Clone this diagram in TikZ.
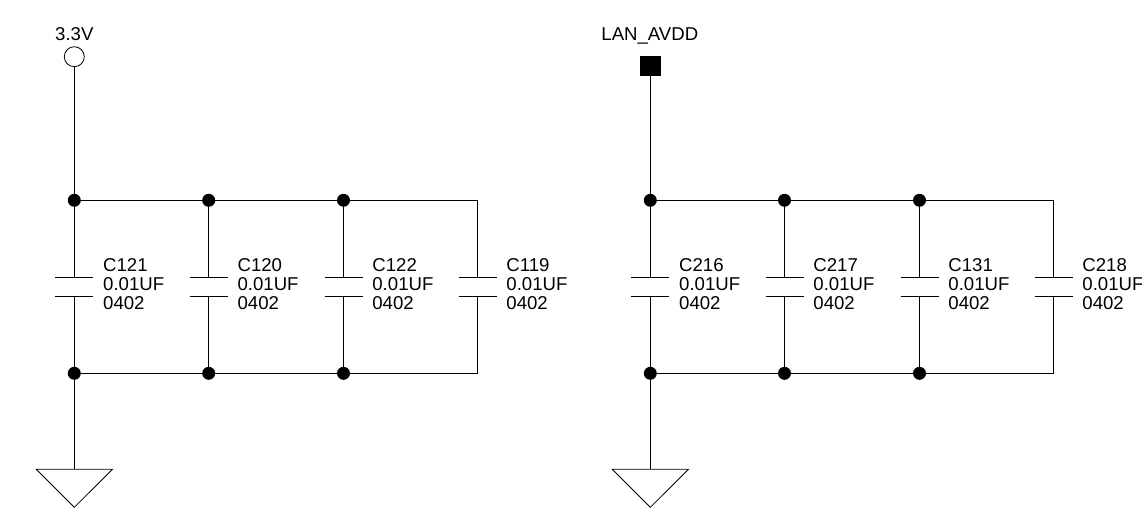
\documentclass[tikz,border=0pt]{standalone}
\usepackage{fontspec}
\setmainfont{Liberation Sans}
\tikzset{
  wire/.style={draw=black,line width=1pt},
  dotj/.style={circle,fill=black,inner sep=0pt,minimum size=13pt},
  caplabel/.style={anchor=north west,inner sep=0pt,align=left,font=\fontsize{18.6}{19.1}\selectfont},
  netlabel/.style={anchor=base west,inner sep=0pt,font=\fontsize{18.6}{19.1}\selectfont},
  portopen/.style={circle,draw=black,line width=0.8pt,fill=white,inner sep=0pt,minimum size=20pt},
  portsolid/.style={rectangle,fill=black,inner sep=0pt,minimum size=20.5pt}
}
\begin{document}
\begin{tikzpicture}[x=1pt,y=-1pt]
\useasboundingbox (0,0) rectangle (1142,522);
\fill[white] (0,0) rectangle (1142,522);
% capacitor column: name, x, label lines
\newcommand{\capcol}[3]{%
  \coordinate (#1t) at (#2,200.3);
  \coordinate (#1b) at (#2,373.3);
  \coordinate (#1pa) at (#2,277);
  \coordinate (#1pb) at (#2,296.5);
  \coordinate (#1al) at (#2-19,277);
  \coordinate (#1ar) at (#2+19,277);
  \coordinate (#1bl) at (#2-19,296.5);
  \coordinate (#1br) at (#2+19,296.5);
  \draw[wire] (#1t) -- (#1pa);
  \draw[wire] (#1pb) -- (#1b);
  \draw[wire] (#1al) -- (#1ar);
  \draw[wire] (#1bl) -- (#1br);
  \node[caplabel] (#1lab) at (#2+28.7,258.4) {#3\\0.01UF\\0402};
}
% left group
\capcol{a}{74.3}{C121}
\capcol{b}{208.7}{C120}
\capcol{c}{343.5}{C122}
\capcol{d}{477.5}{C119}
\draw[wire] (at) -- (bt) -- (ct) -- (dt);
\draw[wire] (ab) -- (bb) -- (cb) -- (db);
\node[portopen] (pwra) at (74.3,56.7) {};
\node[netlabel] (neta) at (55,40.3) {3.3V};
\draw[wire] (pwra) -- (at);
\coordinate (gnda) at (74.3,469.3);
\coordinate (gndal) at (36.3,469.3);
\coordinate (gndar) at (112.5,469.3);
\coordinate (gndat) at (74.3,507.3);
\draw[wire] (ab) -- (gnda);
\draw[draw=black,line width=0.8pt,line join=miter] (gndal) -- (gndar) -- (gndat) -- cycle;
\foreach \n in {at,bt,ct,ab,bb,cb} \node[dotj] (j\n) at (\n) {};
% right group
\capcol{e}{650.3}{C216}
\capcol{f}{784.5}{C217}
\capcol{g}{919.5}{C131}
\capcol{h}{1053.5}{C218}
\draw[wire] (et) -- (ft) -- (gt) -- (ht);
\draw[wire] (eb) -- (fb) -- (gb) -- (hb);
\node[portsolid] (pwre) at (650.3,66) {};
\node[netlabel] (nete) at (601.2,40.3) {LAN\_AVDD};
\draw[wire] (pwre) -- (et);
\coordinate (gnde) at (650.3,469.3);
\coordinate (gndel) at (612.3,469.3);
\coordinate (gnder) at (688.5,469.3);
\coordinate (gndet) at (650.3,507.3);
\draw[wire] (eb) -- (gnde);
\draw[draw=black,line width=0.8pt,line join=miter] (gndel) -- (gnder) -- (gndet) -- cycle;
\foreach \n in {et,ft,gt,eb,fb,gb} \node[dotj] (j\n) at (\n) {};
\end{tikzpicture}
\end{document}
